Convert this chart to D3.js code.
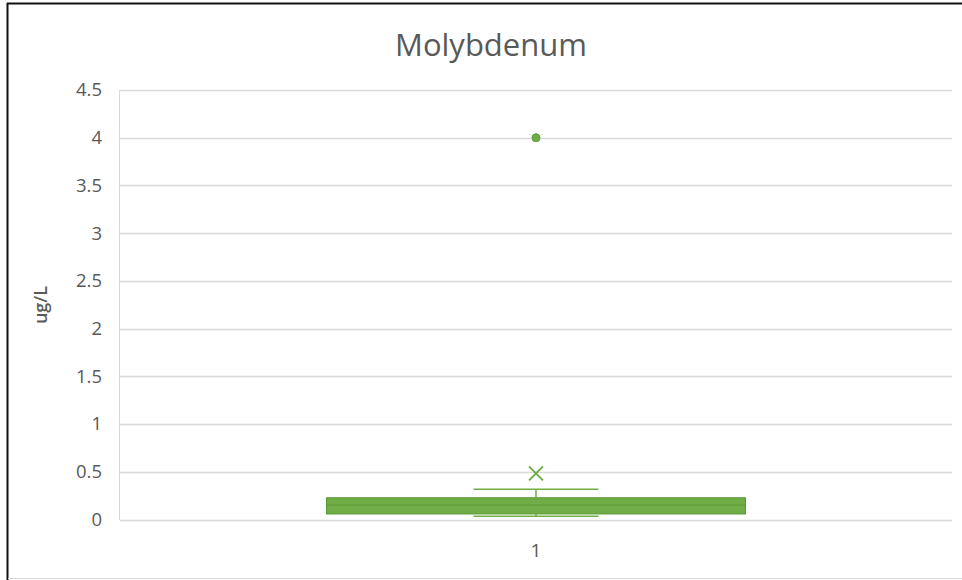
<!DOCTYPE html>
<html>
<head>
<meta charset="utf-8">
<script src="https://cdn.jsdelivr.net/npm/d3@7"></script>
<style>
body{margin:0;background:#fff;}
svg{display:block;}
text{font-family:"Open Sans","Noto Sans",sans-serif;}
</style>
</head>
<body>
<svg id="chart" width="962" height="580"></svg>
<script>
const categories = ["1"];
const q1Values = [0.058];
const medianValues = [0.152];
const q3Values = [0.228];
const whiskerLow = [0.033];
const whiskerHigh = [0.316];
const meanValues = [0.483];
const outliers = [[4.0]];
const yTicks = [0, 0.5, 1, 1.5, 2, 2.5, 3, 3.5, 4, 4.5];
const titleText = "Molybdenum";
const yTitle = "ug/L";

const svg = d3.select("#chart");
const W = 962, H = 580;
const mLeft = 120, mRight = 952, mTop = 90, mBottom = 519.5;

// frame
svg.append("rect").attr("x",0).attr("y",0).attr("width",W).attr("height",H).attr("fill","#fff");
svg.append("line").attr("x1",7).attr("x2",W).attr("y1",3.5).attr("y2",3.5).attr("stroke","#111").attr("stroke-width",2);
svg.append("line").attr("x1",7.5).attr("x2",7.5).attr("y1",3).attr("y2",H).attr("stroke","#111").attr("stroke-width",2);
svg.append("line").attr("x1",8).attr("x2",W).attr("y1",578.5).attr("y2",578.5).attr("stroke","#d9d9d9").attr("stroke-width",1);

const y = d3.scaleLinear().domain([0,4.5]).range([mBottom, mTop]);
const x = d3.scaleBand().domain(categories).range([mLeft, mRight]).paddingInner(0).paddingOuter(0);

// gridlines
svg.append("g").selectAll("line").data(yTicks).join("line")
  .attr("x1", mLeft).attr("x2", mRight)
  .attr("y1", d => Math.round(y(d))+0.5).attr("y2", d => Math.round(y(d))+0.5)
  .attr("stroke","#d9d9d9").attr("stroke-width",1.5);
svg.append("line").attr("x1",mLeft-0.5).attr("x2",mLeft-0.5).attr("y1",mTop).attr("y2",mBottom+0.5)
  .attr("stroke","#d9d9d9").attr("stroke-width",1);

// y axis labels
const yAxis = d3.axisLeft(y).tickValues(yTicks).tickSize(0).tickPadding(18).tickFormat(d => String(d));
const ya = svg.append("g").attr("transform",`translate(${mLeft},0)`).call(yAxis);
ya.select(".domain").remove();
ya.selectAll("text").attr("font-size",18.5).attr("fill","#595959").attr("font-family",'"Open Sans",sans-serif');

// x axis labels
const xAxis = d3.axisBottom(x).tickSize(0).tickPadding(24);
const xa = svg.append("g").attr("transform",`translate(0,${mBottom})`).call(xAxis);
xa.select(".domain").remove();
xa.selectAll("text").attr("font-size",19).attr("fill","#595959").attr("font-family",'"Open Sans",sans-serif');

// title
svg.append("text").attr("x",491).attr("y",56).attr("text-anchor","middle")
  .attr("font-size",31).attr("fill","#595959").text(titleText);

// y title
svg.append("text").attr("transform","translate(47,305) rotate(-90)").attr("text-anchor","middle")
  .attr("font-size",18).attr("font-weight",600).attr("fill","#595959").text(yTitle);

// box plot
const green = "#70AD47", dark = "#5a9a35";
const boxW = 419, capW = 125;
categories.forEach((c,i) => {
  const cx = x(c) + x.bandwidth()/2;
  const g = svg.append("g");
  g.append("line").attr("x1",cx).attr("x2",cx).attr("y1",y(whiskerHigh[i])).attr("y2",y(q3Values[i])).attr("stroke",green).attr("stroke-width",1.5);
  g.append("line").attr("x1",cx).attr("x2",cx).attr("y1",y(q1Values[i])).attr("y2",y(whiskerLow[i])).attr("stroke",green).attr("stroke-width",1.5);
  g.append("line").attr("x1",cx-capW/2).attr("x2",cx+capW/2).attr("y1",y(whiskerHigh[i])).attr("y2",y(whiskerHigh[i])).attr("stroke",green).attr("stroke-width",1.5);
  g.append("line").attr("x1",cx-capW/2).attr("x2",cx+capW/2).attr("y1",y(whiskerLow[i])).attr("y2",y(whiskerLow[i])).attr("stroke",green).attr("stroke-width",1.5);
  g.append("rect").attr("x",cx-boxW/2).attr("width",boxW)
    .attr("y",y(q3Values[i])).attr("height",y(q1Values[i])-y(q3Values[i]))
    .attr("fill",green).attr("stroke",dark).attr("stroke-width",1);
  g.append("line").attr("x1",cx-boxW/2).attr("x2",cx+boxW/2).attr("y1",y(medianValues[i])).attr("y2",y(medianValues[i])).attr("stroke",dark).attr("stroke-width",1);
  const my = y(meanValues[i]), s = 7;
  g.append("path").attr("d",`M${cx-s},${my-s}L${cx+s},${my+s}M${cx-s},${my+s}L${cx+s},${my-s}`)
    .attr("stroke",green).attr("stroke-width",2).attr("fill","none");
  g.selectAll("circle").data(outliers[i]).join("circle")
    .attr("cx",cx).attr("cy",d=>y(d)).attr("r",4).attr("fill",green).attr("stroke",dark).attr("stroke-width",1);
});
</script>
</body>
</html>
